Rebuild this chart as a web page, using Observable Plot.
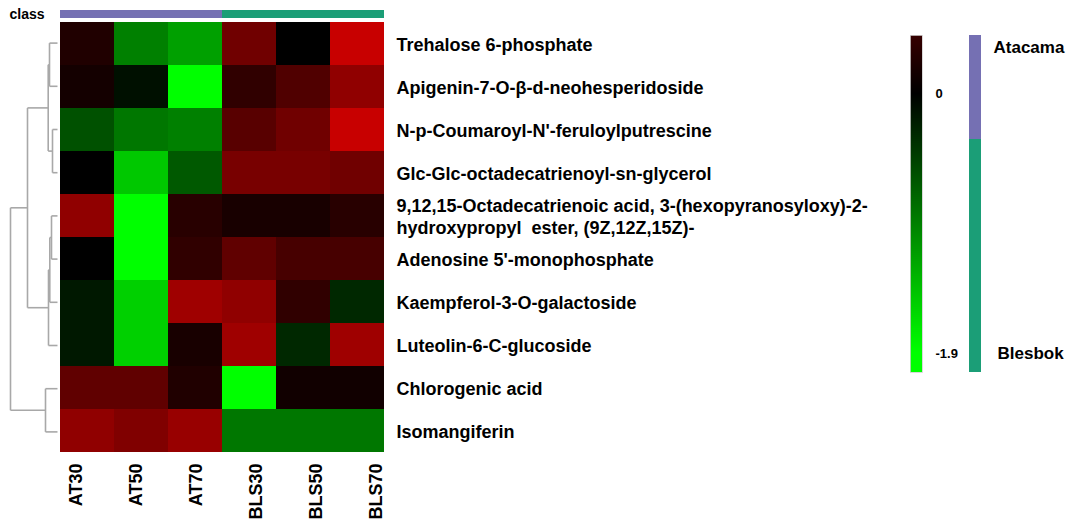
<!DOCTYPE html>
<html>
<head>
<meta charset="utf-8">
<script src="https://cdn.jsdelivr.net/npm/d3@7"></script>
<script src="https://cdn.jsdelivr.net/npm/@observablehq/plot@0.6"></script>
<style>
  html, body { margin: 0; padding: 0; background: #fff; }
  #chart { position: relative; width: 1067px; height: 522px; background: #fff; overflow: hidden; }
  #chart svg { position: absolute; left: 0; top: 0; background: transparent; }
</style>
</head>
<body>
<div id="chart"></div>
<script>
// ---------------- data ----------------
const columns = ["AT30", "AT50", "AT70", "BLS30", "BLS50", "BLS70"];
const columnClass = ["Atacama", "Atacama", "Atacama", "Blesbok", "Blesbok", "Blesbok"];
const classes = ["Atacama", "Blesbok"];
const classColors = ["#7570B3", "#1B9E77"];

const metabolites = [
  "Trehalose 6-phosphate",
  "Apigenin-7-O-β-d-neohesperidoside",
  "N-p-Coumaroyl-N'-feruloylputrescine",
  "Glc-Glc-octadecatrienoyl-sn-glycerol",
  "9,12,15-Octadecatrienoic acid, 3-(hexopyranosyloxy)-2-\nhydroxypropyl  ester, (9Z,12Z,15Z)-",
  "Adenosine 5'-monophosphate",
  "Kaempferol-3-O-galactoside",
  "Luteolin-6-C-glucoside",
  "Chlorogenic acid",
  "Isomangiferin"
];

// scaled values, one row per metabolite, columns in the order above
const values = [
  [ 0.25, -0.95, -1.19,  0.88,  0.00,  1.57],
  [ 0.16, -0.12, -1.90,  0.38,  0.63,  1.13],
  [-0.60, -0.89, -0.95,  0.69,  0.88,  1.57],
  [ 0.00, -1.49, -0.66,  0.94,  0.94,  0.88],
  [ 1.13, -1.90,  0.31,  0.19,  0.19,  0.31],
  [ 0.00, -1.90,  0.38,  0.75,  0.56,  0.56],
  [-0.18, -1.55,  1.25,  1.13,  0.38, -0.30],
  [-0.18, -1.55,  0.19,  1.25, -0.30,  1.25],
  [ 0.75,  0.75,  0.25, -1.90,  0.13,  0.13],
  [ 1.13,  1.00,  1.19, -0.89, -0.89, -0.89]
];

// row dendrogram (hclust style: negative = leaf number, positive = earlier merge)
const dendroMerges = [[-1, -2], [-3, -4], [1, 2], [-5, -6], [4, -7], [5, -8], [3, 6], [-9, -10], [7, 8]];
const dendroHeights = [0.8, 0.5, 0.93, 0.6, 0.77, 0.9, 3.0, 1.2, 4.7];

// colour key
const colorStops = [-1.9, 0, 2.0];
const colorRange = ["#00ff00", "#000000", "#ff0000"];
const colorKeyExtent = [-2.04, 0.43];
const colorKeyTicks = [0, -1.9];

// ---------------- build ----------------
const font = "'Liberation Sans', Arial, Helvetica, sans-serif";
const W = 1067, H = 522;
const baseStyle = {fontFamily: font, fontWeight: "bold", color: "#000", background: "transparent", overflow: "visible"};
const colorScale = {type: "linear", domain: colorStops, range: colorRange, interpolate: "rgb", clamp: true};

const heat = [];
metabolites.forEach((m, i) => columns.forEach((c, j) => heat.push({metabolite: m, column: c, value: values[i][j]})));

const chart = document.getElementById("chart");

// heatmap with row labels
const heatPlot = Plot.plot({
  width: W, height: H,
  marginLeft: 60, marginRight: 683, marginTop: 21, marginBottom: 69,
  style: {...baseStyle, fontSize: "18px"},
  x: {domain: columns, padding: 0, axis: null},
  y: {domain: metabolites, padding: 0, axis: null},
  color: colorScale,
  marks: [
    Plot.cell(heat, {x: "column", y: "metabolite", fill: "value", inset: 0, shapeRendering: "crispEdges"}),
    Plot.axisY({anchor: "right", label: null, tickSize: 0, tickPadding: 12, fontSize: 18, fontWeight: "bold", lineHeight: 1.2, textAnchor: "start", fill: "#000"})
  ]
});
chart.appendChild(heatPlot);

// class bar on top
const classPlot = Plot.plot({
  width: W, height: H,
  marginLeft: 60, marginRight: 683, marginTop: 10, marginBottom: 504,
  style: {...baseStyle, fontSize: "14px"},
  x: {domain: columns, padding: 0, axis: null},
  y: {domain: ["class"], padding: 0, axis: null},
  color: {domain: classes, range: classColors},
  marks: [
    Plot.cell(columns, {x: d => d, y: () => "class", fill: (d, i) => columnClass[i], shapeRendering: "crispEdges"}),
    Plot.axisY({anchor: "left", label: null, tickSize: 0, tickPadding: 16, fontSize: 14, fontWeight: "bold", fill: "#000"})
  ]
});
chart.appendChild(classPlot);

// column labels (rotated)
const colLabelPlot = Plot.plot({
  width: W, height: H,
  marginLeft: 0, marginRight: 0, marginTop: 440, marginBottom: 67,
  style: {...baseStyle, fontSize: "18px"},
  x: {type: "point", domain: columns, range: [75, 377], padding: 0, axis: null},
  marks: [
    Plot.text(columns, {x: d => d, text: d => d, frameAnchor: "bottom", rotate: -90, textAnchor: "end", lineAnchor: "middle", dy: 8, fontSize: 18, fontWeight: "bold", fill: "#000"})
  ]
});
chart.appendChild(colLabelPlot);

// dendrogram
const nodeY = [], nodeH = [];
const segs = [];
const childPos = c => c < 0 ? {y: -c - 1, h: 0} : {y: nodeY[c - 1], h: nodeH[c - 1]};
dendroMerges.forEach(([a, b], i) => {
  const h = dendroHeights[i];
  const pa = childPos(a), pb = childPos(b);
  segs.push({x1: pa.h, y1: pa.y, x2: h, y2: pa.y});
  segs.push({x1: pb.h, y1: pb.y, x2: h, y2: pb.y});
  segs.push({x1: h, y1: pa.y, x2: h, y2: pb.y});
  nodeY.push((pa.y + pb.y) / 2);
  nodeH.push(h);
});
const dendroPlot = Plot.plot({
  width: W, height: H,
  style: baseStyle,
  x: {domain: [0, d3.max(dendroHeights)], range: [57, 10], axis: null},
  y: {domain: [-0.5, metabolites.length - 0.5], range: [21, 453], axis: null},
  marks: [
    Plot.link(segs, {x1: "x1", y1: "y1", x2: "x2", y2: "y2", stroke: "#a8a8a8", strokeWidth: 1.6})
  ]
});
chart.appendChild(dendroPlot);

// colour key
const step = 0.005;
const keySamples = d3.range(colorKeyExtent[0], colorKeyExtent[1], step);
const keyPlot = Plot.plot({
  width: W, height: H,
  marginLeft: 910, marginRight: 145, marginTop: 35, marginBottom: 150,
  style: {...baseStyle, fontSize: "13px"},
  y: {domain: colorKeyExtent, range: [372, 35], axis: null},
  color: colorScale,
  marks: [
    Plot.rect(keySamples, {y1: d => d, y2: d => Math.min(d + step * 1.5, colorKeyExtent[1]), fill: d => d, shapeRendering: "crispEdges"}),
    Plot.frame({stroke: "#d0d0d0", strokeWidth: 0.8}),
    Plot.axisY(colorKeyTicks, {anchor: "right", label: null, tickSize: 0, tickPadding: 13, tickFormat: d => String(d), fontSize: 13, fontWeight: "bold", fill: "#000"})
  ]
});
chart.appendChild(keyPlot);

// class key
const classShare = [0.31, 0.69];
let acc = 0;
const classKey = classes.map((c, i) => { const r = {cls: c, y1: acc, y2: acc + classShare[i]}; acc += classShare[i]; return r; });
const classKeyPlot = Plot.plot({
  width: W, height: H,
  marginLeft: 969, marginRight: 86, marginTop: 35, marginBottom: 150,
  style: {...baseStyle, fontSize: "17px"},
  y: {domain: [0, 1], range: [35, 372], axis: null},
  color: {domain: classes, range: classColors},
  marks: [
    Plot.rect(classKey, {y1: "y1", y2: "y2", fill: "cls", shapeRendering: "crispEdges"}),
    Plot.text([classes[0]], {y: () => 0, text: d => d, frameAnchor: "left", dx: 24, dy: 12, textAnchor: "start", fontSize: 17, fontWeight: "bold", fill: "#000"}),
    Plot.text([classes[1]], {y: () => 1, text: d => d, frameAnchor: "left", dx: 28, dy: -19, textAnchor: "start", fontSize: 17, fontWeight: "bold", fill: "#000"})
  ]
});
chart.appendChild(classKeyPlot);
</script>
</body>
</html>
